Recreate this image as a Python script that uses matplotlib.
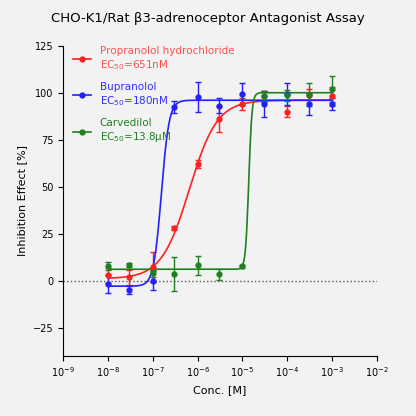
import numpy as np
import matplotlib.pyplot as plt

conc = [1e-8, 3e-8, 1e-7, 3e-7, 1e-6, 3e-6, 1e-5, 3e-5, 1e-4, 3e-4, 1e-3]
prop = [2.7, 1.8, 7, 28, 62, 86, 94, 98, 90, 99, 98]
prop_err = [4, 4, 8, 1, 2, 7, 3, 3, 3, 3, 5]
bupr = [-1.8, -4.9, 0, 92.4, 97.5, 93, 99.4, 94, 99.4, 94, 94]
bupr_err = [5, 2, 5, 3, 8, 4, 6, 7, 6, 6, 3]
carv = [7.8, 8.2, 3.8, 3.3, 8.2, 3.3, 7.5, 98, 98.6, 99, 102]
carv_err = [2, 1, 2, 9, 5, 3, 1, 3, 3, 6, 7]
fits = {  # bottom, top, EC50, hill
    'prop': (1, 96, 651e-9, 1.4),
    'bupr': (-3, 96, 155e-9, 5),
    'carv': (6, 100, 13.8e-6, 12),
}
labels = ['Propranolol hydrochloride\nEC$_{50}$=651nM', 'Bupranolol\nEC$_{50}$=180nM',
          'Carvedilol\nEC$_{50}$=13.8μM']
colors = ['#ff2020', '#2020ff', '#208020']
text_colors = ['#ff5050', '#3030ff', '#208020']

fig = plt.figure(figsize=(4.16, 4.16), dpi=100)
fig.patch.set_facecolor('#f2f2f2')
ax = fig.add_axes([0.152, 0.145, 0.754, 0.745])
ax.set_facecolor('#f2f2f2')
xx = np.logspace(-8, -3, 400)
handles = []
for (k, y, e, c) in zip(['prop', 'bupr', 'carv'], [prop, bupr, carv],
                        [prop_err, bupr_err, carv_err], colors):
    b, t, ec, h = fits[k]
    ax.plot(xx, b + (t - b) / (1 + (ec / xx) ** h), color=c, lw=1.2)
    ax.errorbar(conc, y, yerr=e, fmt='o', color=c, ms=3.5, capsize=2, elinewidth=1)
    handles.append(plt.Line2D([], [], color=c, marker='o', ms=3.5, lw=1.2))
ax.axhline(0, color='#555555', ls=':', lw=1)
ax.set_xscale('log')
ax.set_xlim(1e-9, 1e-2)
ax.set_ylim(-40, 125)
ax.set_yticks([-25, 0, 25, 50, 75, 100, 125])
ax.set_xticks([10.0 ** i for i in range(-9, -1)])
ax.minorticks_off()
for s in ['top', 'right']:
    ax.spines[s].set_visible(False)
ax.tick_params(labelsize=7)
ax.set_xlabel('Conc. [M]', fontsize=8)
ax.set_ylabel('Inhibition Effect [%]', fontsize=8)
fig.suptitle('CHO-K1/Rat β3-adrenoceptor Antagonist Assay', fontsize=9.5, y=0.97)
leg = ax.legend(handles, labels, loc='upper left', bbox_to_anchor=(0.0, 1.03), frameon=False,
                fontsize=7.5, labelspacing=1.0, handlelength=1.8)
for t, c in zip(leg.get_texts(), text_colors):
    t.set_color(c)
fig.savefig('out.png', dpi=100, facecolor=fig.get_facecolor())
